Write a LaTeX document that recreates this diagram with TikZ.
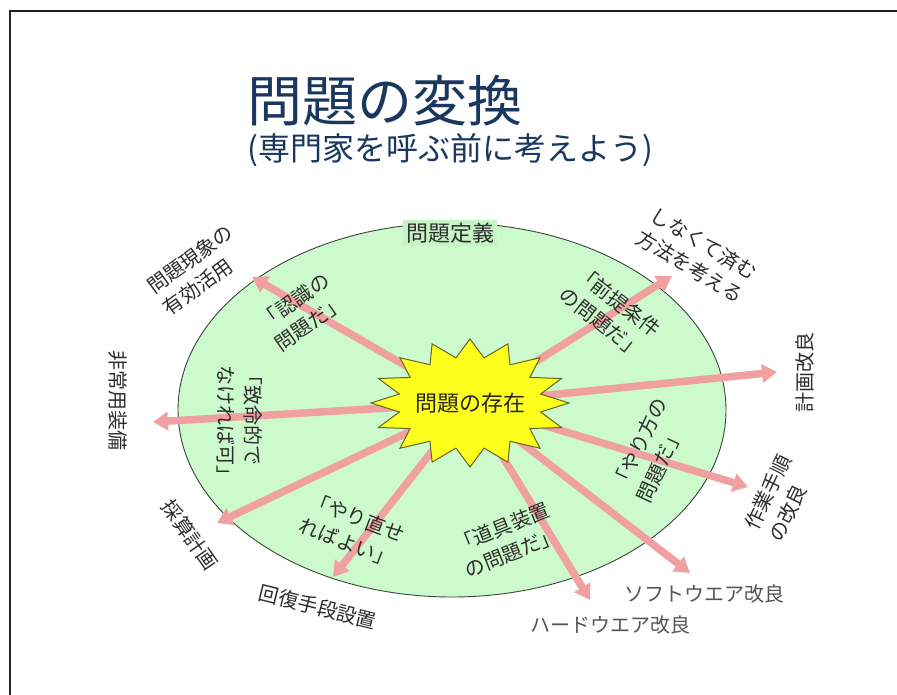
\documentclass[tikz,border=0pt]{standalone}
\usepackage{fontspec}
\setmainfont{Noto Sans CJK JP}
\usetikzlibrary{arrows.meta}
\definecolor{ellfill}{RGB}{204,250,204}
\definecolor{deffill}{RGB}{198,244,198}
\definecolor{ellline}{RGB}{60,70,60}
\definecolor{arrowpink}{RGB}{240,160,160}
\definecolor{titleblue}{RGB}{25,55,95}
\definecolor{starfill}{RGB}{255,255,30}
\definecolor{starline}{RGB}{100,100,40}
\definecolor{labeltext}{RGB}{45,45,45}
\definecolor{softtext}{RGB}{85,85,85}
\definecolor{framecol}{RGB}{35,35,35}
\tikzset{
  lbl/.style={text=labeltext, font=\fontsize{20}{27}\selectfont, align=left, inner sep=0pt},
  arr/.style={draw=arrowpink, line width=7.5pt, -{Triangle[width=18pt,length=15pt]}},
}
\begin{document}
\begin{tikzpicture}[x=1pt,y=-1pt]
\useasboundingbox (0,0) rectangle (897,695);
\fill[white] (0,0) rectangle (897,695);
% frame
\draw[framecol, line width=2.5pt] (10,695) -- (10,11) -- (897,11);
% title
\node[anchor=west, text=titleblue, font=\fontsize{55}{60}\selectfont, inner sep=0pt] (title) at (247,101) {問題の変換};
\node[anchor=west, text=titleblue, font=\fontsize{32}{36}\selectfont, inner sep=0pt] (sub) at (247,150) {(専門家を呼ぶ前に考えよう)};
% ellipse
\filldraw[fill=ellfill, draw=ellline, line width=0.9pt] (452,410) ellipse [x radius=274pt, y radius=187pt];
\node[lbl, fill=deffill, inner sep=3pt, font=\fontsize{22}{26}\selectfont] (def) at (450,233) {問題定義};
% arrows
\coordinate (s) at (470,403);
\coordinate (t1) at (252,277);
\coordinate (t2) at (672,276);
\coordinate (t3) at (777,372);
\coordinate (t4) at (153,422);
\coordinate (t5) at (217,523);
\coordinate (t6) at (333,577);
\coordinate (t7) at (590,600);
\coordinate (t8) at (690,573);
\coordinate (t9) at (748,487);
\foreach \i in {1,...,9} \draw[arr] (s) -- (t\i);
% star
\filldraw[fill=starfill, draw=starline, line width=1pt]
  plot[samples at={0,...,31}, variable=\k]
  ({470+ifthenelse(mod(\k,2)<0.5,99,72)*cos(\k*11.25)},
   {403+ifthenelse(mod(\k,2)<0.5,64,46)*sin(\k*11.25)}) -- cycle;
\node[lbl, text=black!85, font=\fontsize{22}{26}\selectfont] (star) at (s) {問題の存在};
% labels
\node[lbl, rotate=36] (l1) at (198,270) {問題現象の\\有効活用};
\node[lbl, rotate=35] (l2) at (302,312) {「認識の\\問題だ」};
\node[lbl, rotate=-90] (l3) at (240,425) {「致命的で\\なければ可」};
\node[lbl, rotate=-90] (l4) at (118,400) {非常用装備};
\node[lbl, rotate=-55] (l5) at (190,535) {採算計画};
\node[lbl, rotate=-14] (l6) at (318,607) {回復手段設置};
\node[lbl, rotate=-21] (l7) at (352,530) {「やり直せ\\ればよい」};
\node[lbl, rotate=22] (l8) at (507,540) {「道具装置\\の問題だ」};
\node[lbl, text=softtext] (l9) at (704,594) {ソフトウエア改良};
\node[lbl, text=softtext] (l10) at (610,625) {ハードウエア改良};
\node[lbl, rotate=64] (l11) at (780,498) {作業手順\\の改良};
\node[lbl, rotate=90] (l12) at (805,372) {計画改良};
\node[lbl, rotate=-31] (l13) at (697,255) {しなくて済む\\方法を考える};
\node[lbl, rotate=-38] (l14) at (610,312) {「前提条件\\の問題だ」};
\node[lbl, rotate=65] (l15) at (652,450) {「やり方の\\問題だ」};
\end{tikzpicture}
\end{document}
